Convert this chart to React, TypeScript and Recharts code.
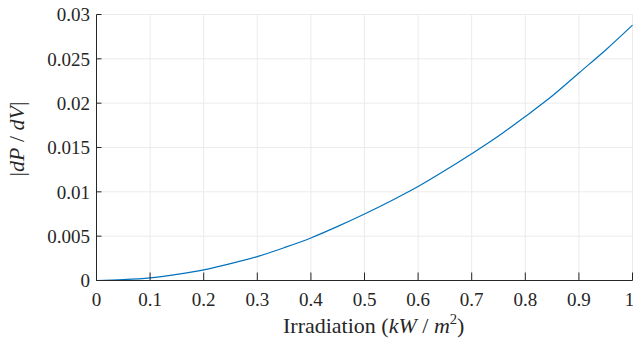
import React from 'react';
import { LineChart, Line, XAxis, YAxis, CartesianGrid, Label } from 'recharts';

const irradiation = [0, 0.05, 0.1, 0.15, 0.2, 0.25, 0.3, 0.35, 0.4, 0.45, 0.5, 0.55, 0.6, 0.65, 0.7, 0.75, 0.8, 0.85, 0.9, 0.95, 1.0];
const dPdV = [0, 0.0001, 0.0003, 0.0007, 0.0012, 0.0019, 0.0027, 0.0037, 0.0048, 0.0061, 0.0075, 0.009, 0.0106, 0.0124, 0.0143, 0.0163, 0.0185, 0.0208, 0.0234, 0.026, 0.0288];
const xTicks = [0, 0.1, 0.2, 0.3, 0.4, 0.5, 0.6, 0.7, 0.8, 0.9, 1];
const yTicks = [0, 0.005, 0.01, 0.015, 0.02, 0.025, 0.03];
const xTickLabels = ['0', '0.1', '0.2', '0.3', '0.4', '0.5', '0.6', '0.7', '0.8', '0.9', '1'];
const yTickLabels = ['0', '0.005', '0.01', '0.015', '0.02', '0.025', '0.03'];

const data = irradiation.map((x, i) => ({ x, y: dPdV[i] }));

const FONT = '"Liberation Serif"';
const AXIS = '#262626';
const TICK_SCALE = 19 / 18;
const LABEL_SCALE = 22 / 18;

const xFmt = (v: number) => {
  const i = xTicks.indexOf(v);
  return i >= 0 ? xTickLabels[i] : String(v);
};
const yFmt = (v: number) => {
  const i = yTicks.indexOf(v);
  return i >= 0 ? yTickLabels[i] : String(v);
};

const XTick = (props: any) => {
  const { x, y, payload } = props;
  const last = payload.value === xTicks[xTicks.length - 1];
  const tx = last ? x - 3 : x;
  return (
    <text
      x={0}
      y={0}
      dy="0.71em"
      transform={`translate(${tx},${y}) scale(${TICK_SCALE})`}
      textAnchor="middle"
      style={{ fontFamily: FONT, fontSize: 18, fill: AXIS }}
    >
      {xFmt(payload.value)}
    </text>
  );
};

const YTick = (props: any) => {
  const { x, y, payload } = props;
  return (
    <text
      x={0}
      y={0}
      dy="0.355em"
      transform={`translate(${x},${y}) scale(${TICK_SCALE})`}
      textAnchor="end"
      style={{ fontFamily: FONT, fontSize: 18, fill: AXIS }}
    >
      {yFmt(payload.value)}
    </text>
  );
};

const XLabel = () => (
  <text
    x={0}
    y={0}
    transform={`translate(283,333) scale(${LABEL_SCALE})`}
    textAnchor="start"
    style={{ fontFamily: FONT, fontSize: 18, fill: AXIS }}
  >
    <tspan>Irradiation (</tspan>
    <tspan fontStyle="italic">kW</tspan>
    <tspan> / </tspan>
    <tspan fontStyle="italic">m</tspan>
    <tspan fontSize={12} dy={-7.5}>2</tspan>
    <tspan dy={7.5}>)</tspan>
  </text>
);

const YLabel = () => (
  <text
    x={0}
    y={0}
    transform={`translate(24,139) rotate(-90) scale(${LABEL_SCALE})`}
    textAnchor="middle"
    style={{ fontFamily: FONT, fontSize: 18, fill: AXIS }}
  >
    <tspan>|</tspan>
    <tspan fontStyle="italic">dP</tspan>
    <tspan> / </tspan>
    <tspan fontStyle="italic">dV</tspan>
    <tspan>|</tspan>
  </text>
);

export default function App() {
  return (
    <div style={{ position: 'absolute', left: 0, top: 0, background: '#fff' }}>
      <LineChart
        width={633}
        height={341}
        data={data}
        margin={{ top: 14.5, right: 0.5, bottom: 0, left: 0 }}
      >
        <CartesianGrid stroke="#ebebeb" strokeWidth={1} />
        <XAxis
          dataKey="x"
          type="number"
          domain={[0, 1]}
          ticks={xTicks}
          interval={0}
          height={60.5}
          tickSize={-8}
          tickMargin={19.5}
          stroke={AXIS}
          tick={<XTick />}
        >
          <Label content={<XLabel />} />
        </XAxis>
        <XAxis
          xAxisId="top"
          orientation="top"
          type="number"
          domain={[0, 1]}
          ticks={xTicks}
          interval={0}
          tickFormatter={() => ''}
          height={0}
          tickSize={-8}
          stroke={AXIS}
        />
        <YAxis
          type="number"
          domain={[0, 0.03]}
          ticks={yTicks}
          interval={0}
          width={96.5}
          tickSize={-5}
          tickMargin={11.5}
          stroke={AXIS}
          tick={<YTick />}
        >
          <Label content={<YLabel />} />
        </YAxis>
        <YAxis
          yAxisId="right"
          orientation="right"
          type="number"
          domain={[0, 0.03]}
          ticks={yTicks}
          interval={0}
          tickFormatter={() => ''}
          width={0}
          tickSize={-5}
          stroke={AXIS}
        />
        <Line
          dataKey="y"
          type="monotone"
          stroke="#0072BD"
          strokeWidth={1.2}
          dot={false}
          isAnimationActive={false}
        />
      </LineChart>
    </div>
  );
}
